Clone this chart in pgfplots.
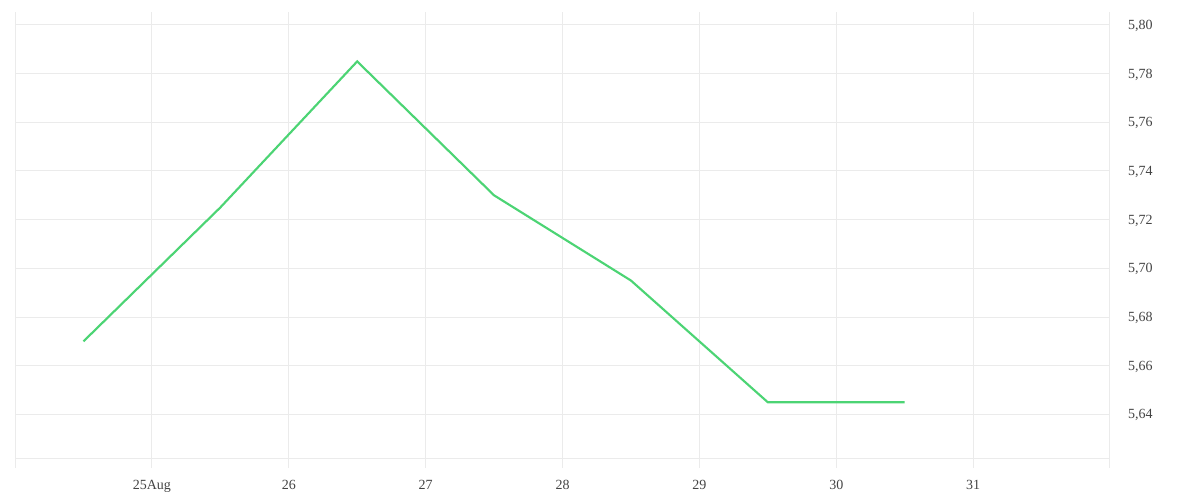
\documentclass[border=0pt]{standalone}
\usepackage{fontspec}
\setmainfont{Liberation Serif}
\usepackage{pgfplots}
\pgfplotsset{compat=1.18}
\definecolor{gridc}{HTML}{EBEBEB}
\definecolor{linec}{HTML}{4CD474}
\definecolor{txt}{HTML}{444444}
\begin{document}
\begin{tikzpicture}[x=0.75pt,y=0.75pt]
\useasboundingbox (0,0) rectangle (1200,500);
\begin{axis}[
  at={(15pt*0.75,31.5pt)}, anchor=south west,
  scale only axis,
  width=821.25pt, height=334.5pt,
  xmin=24, xmax=32,
  ymin=5.6221, ymax=5.8053,
  axis x line*=bottom, axis y line*=right,
  axis line style={draw=gridc, line width=0.75pt, -},
  xtick={24,25,...,32},
  xticklabels={,25Aug,26,27,28,29,30,31,},
  ytick={5.64,5.66,...,5.801},
  xmajorgrids, ymajorgrids,
  grid style={draw=gridc, line width=0.75pt},
  major x tick style={draw=gridc, line width=0.75pt},
  major tick length=7.5pt,
  xtick align=outside,
  ytick style={draw=none},
  typeset ticklabels with strut,
  tick label style={font=\fontsize{10.5}{12}\selectfont, text=txt},
  xticklabel style={yshift=-4pt},
  yticklabel pos=right,
  yticklabel style={anchor=west, xshift=10pt, yshift=-1pt},
  /pgf/number format/.cd, fixed, fixed zerofill, precision=2, use comma, assume math mode=true,
]
\addplot[color=linec, line width=1.6pt, mark=none] coordinates {
  (24.5,5.670) (25.5,5.725) (26.5,5.785) (27.5,5.730) (28.5,5.695) (29.5,5.645) (30.5,5.645)
};
\end{axis}
\end{tikzpicture}
\end{document}
